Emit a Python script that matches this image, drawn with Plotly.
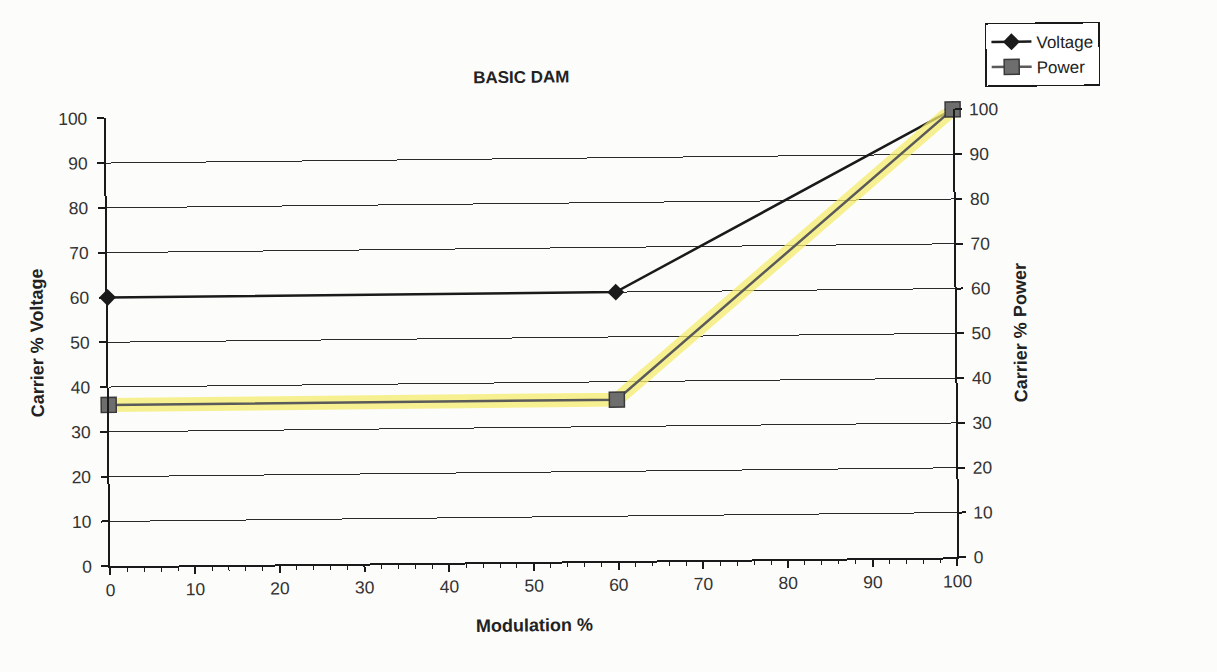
import plotly.graph_objects as go

# Carrier level versus modulation depth for basic DAM
modulation = [0, 60, 100]
voltage = [60, 60, 100]
power = [36, 36, 100]

FONT = "Liberation Sans, Arial, sans-serif"
INK = "#1a1a1a"
PAPER = "#fcfcfa"

fig = go.Figure()

# highlighter stroke under the power curve
fig.add_trace(go.Scatter(
    x=modulation, y=power, mode="lines", yaxis="y2",
    line=dict(color="rgba(245,236,110,0.75)", width=14),
    hoverinfo="skip", showlegend=False, cliponaxis=False,
))
fig.add_trace(go.Scatter(
    x=modulation, y=voltage, name="Voltage", mode="lines+markers",
    line=dict(color=INK, width=2.5),
    marker=dict(symbol="diamond", size=13, color=INK),
    cliponaxis=False,
))
fig.add_trace(go.Scatter(
    x=modulation, y=power, name="Power", mode="lines+markers", yaxis="y2",
    line=dict(color="#5a5a5a", width=2.5),
    marker=dict(symbol="square", size=15, color="#6e6e6e",
                line=dict(color="#3a3a3a", width=1.5)),
    cliponaxis=False,
))

TICK_FONT = dict(family=FONT, size=17.5, color="#333")
TITLE_FONT = dict(family=FONT, size=18, color="#222")

axis_common = dict(
    range=[0, 100], dtick=10, showline=True, linecolor=INK, linewidth=1.8,
    ticks="outside", ticklen=7, tickwidth=1.5, tickcolor=INK,
    tickfont=TICK_FONT, zeroline=False, fixedrange=True,
)

L, R, T, B = 108, 955, 113, 561
W, H = 1217, 672

fig.update_layout(
    width=W, height=H,
    margin=dict(l=L, r=W - R, t=T, b=H - B),
    paper_bgcolor=PAPER, plot_bgcolor="rgba(0,0,0,0)",
    title=dict(text="<b>BASIC DAM</b>", x=524 / W, xanchor="center",
               y=1 - 76 / H, yanchor="middle",
               font=dict(family=FONT, size=17, color="#222")),
    xaxis=dict(
        range=[0, 100], dtick=10, showline=True, linecolor=INK, linewidth=1.8,
        ticks="outside", ticklen=7, tickwidth=1.5, tickcolor=INK,
        minor=dict(dtick=2, ticks="outside", ticklen=4, tickcolor=INK, tickwidth=1),
        showgrid=False, zeroline=False, tickfont=TICK_FONT,
        title=dict(text="<b>Modulation %</b>", standoff=24, font=TITLE_FONT),
    ),
    yaxis=dict(
        **axis_common, side="left", showgrid=True, gridcolor="#2a2a2a", gridwidth=1.2,
        ticklabelstandoff=6,
        title=dict(text="<b>Carrier % Voltage</b>", standoff=12, font=TITLE_FONT),
    ),
    yaxis2=dict(
        **axis_common, side="right", overlaying="y", showgrid=False,
        ticklabelstandoff=4,
        title=dict(text="<b>Carrier % Power</b>", standoff=14, font=TITLE_FONT),
    ),
    legend=dict(
        x=(988 - L) / (R - L), y=(B - 27) / (B - T), xanchor="left", yanchor="top",
        bgcolor="white", bordercolor=INK, borderwidth=1.5,
        font=dict(family=FONT, size=17, color="#222"),
        itemwidth=40,
    ),
    showlegend=True,
)

# the sheet sits slightly tilted: right side higher
fig.write_html(
    "out.html",
    post_script=(
        "document.body.style.background = '" + PAPER + "';"
        "document.getElementById('{plot_id}').style.transform = 'rotate(-0.6deg)';"
    ),
)
